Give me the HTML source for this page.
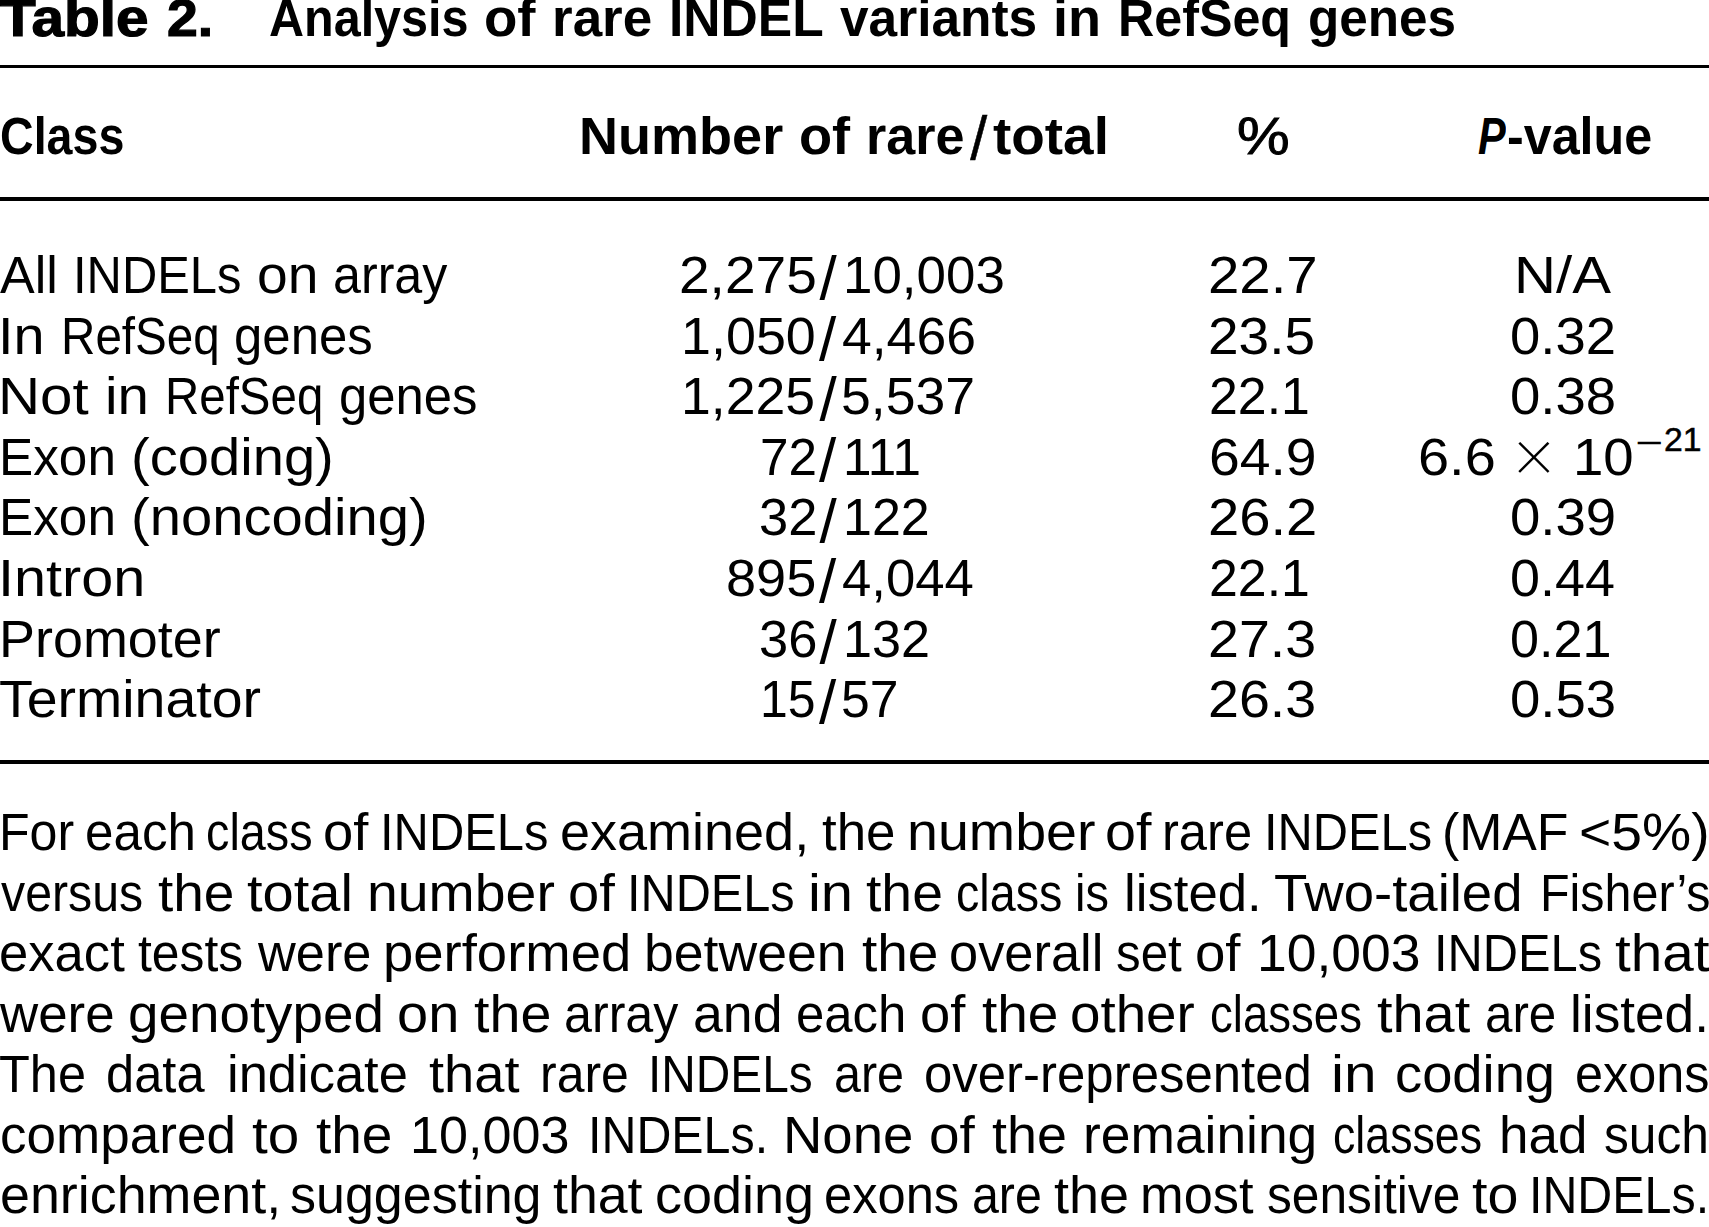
<!DOCTYPE html>
<html lang="en"><head><meta charset="utf-8"><title>Table 2</title>
<style>
html,body{margin:0;padding:0;background:#fff;}
body{width:1709px;height:1227px;position:relative;overflow:hidden;font-family:"Liberation Sans",sans-serif;color:#000;}
.t{position:absolute;white-space:nowrap;line-height:1;transform-origin:0 0;display:block;}
.hr{position:absolute;left:0;width:1709px;background:#000;}
main,h1,p,div{margin:0;padding:0;}
.r{font-size:52.2px;font-weight:400;}
.b{font-size:52.2px;font-weight:700;}
.sb{font-size:52.2px;font-weight:400;-webkit-text-stroke:0.9px #000;}
.xb{font-size:52.2px;font-weight:700;-webkit-text-stroke:1.2px #000;}
.sl{font-size:62px;font-weight:400;}
.hsl{font-size:61px;font-weight:400;-webkit-text-stroke:0.5px #000;}
.x{font-size:80px;font-weight:400;-webkit-text-stroke:3.2px #fff;}
.m{font-size:33px;font-weight:400;}
.s{font-size:33px;font-weight:400;-webkit-text-stroke:0.5px #000;}
</style></head>
<body>
<main class="tbl">
<h1 class="cap">
<span class="t xb" style="left:0.00px;top:-8.50px;transform:scaleX(1.1213);">Table</span>
<span class="t xb" style="left:167.24px;top:-8.50px;transform:scaleX(1.0605);">2.</span>
<span class="t b" style="left:269.06px;top:-8.20px;transform:scaleX(0.9294);">Analysis</span>
<span class="t b" style="left:484.09px;top:-8.20px;transform:scaleX(1.0465);">of</span>
<span class="t b" style="left:551.61px;top:-8.20px;transform:scaleX(1.0159);">rare</span>
<span class="t b" style="left:669.47px;top:-8.20px;transform:scaleX(0.9881);">INDEL</span>
<span class="t b" style="left:840.24px;top:-8.20px;transform:scaleX(0.9850);">variants</span>
<span class="t b" style="left:1053.18px;top:-8.20px;transform:scaleX(1.0355);">in</span>
<span class="t b" style="left:1118.18px;top:-8.20px;transform:scaleX(0.9624);">RefSeq</span>
<span class="t b" style="left:1307.58px;top:-8.20px;transform:scaleX(0.9818);">genes</span>
</h1>
<div class="hr" style="top:64.5px;height:3.8px"></div>
<div class="thead">
<span class="t b" style="left:0.02px;top:109.70px;transform:scaleX(0.8927);">Class</span>
<span class="t b" style="left:578.61px;top:109.70px;transform:scaleX(1.0356);">Number</span>
<span class="t b" style="left:799.12px;top:109.70px;transform:scaleX(1.0386);">of</span>
<span class="t b" style="left:866.36px;top:109.70px;transform:scaleX(0.9987);">rare</span><span class="t hsl" style="left:970.30px;top:107.95px;transform:scaleX(1.0000);">/</span><span class="t b" style="left:992.67px;top:109.70px;transform:scaleX(1.0521);">total</span>
<span class="t sb" style="left:1237.11px;top:109.70px;transform:scaleX(1.1347);">%</span>
<span class="t b" style="left:1477.81px;top:109.70px;transform:scaleX(0.7964);"><i>P</i></span><span class="t b" style="left:1506.86px;top:109.70px;transform:scaleX(0.9628);">-value</span>
</div>
<div class="hr" style="top:197.3px;height:3.8px"></div>
<div class="tbody">
<div class="tr">
<span class="t r" style="left:0.00px;top:249.10px;transform:scaleX(0.9957);">All</span>
<span class="t r" style="left:72.92px;top:249.10px;transform:scaleX(0.9370);">INDELs</span>
<span class="t r" style="left:257.33px;top:249.10px;transform:scaleX(1.0575);">on</span>
<span class="t r" style="left:332.86px;top:249.10px;transform:scaleX(0.9618);">array</span>
<span class="t r" style="left:678.71px;top:249.10px;transform:scaleX(1.0549);">2,275</span><span class="t sl" style="left:819.60px;top:247.30px;transform:scaleX(1.0000);">/</span><span class="t r" style="left:842.61px;top:249.10px;transform:scaleX(1.0140);">10,003</span>
<span class="t r" style="left:1207.59px;top:249.10px;transform:scaleX(1.0802);">22.7</span>
<span class="t r" style="left:1514.05px;top:249.10px;transform:scaleX(1.1142);">N/A</span>
</div>
<div class="tr">
<span class="t r" style="left:-1.75px;top:309.70px;transform:scaleX(1.0688);">In</span>
<span class="t r" style="left:60.95px;top:309.70px;transform:scaleX(0.9121);">RefSeq</span>
<span class="t r" style="left:234.07px;top:309.70px;transform:scaleX(0.9756);">genes</span>
<span class="t r" style="left:681.29px;top:309.70px;transform:scaleX(1.0323);">1,050</span><span class="t sl" style="left:819.10px;top:307.90px;transform:scaleX(1.0000);">/</span><span class="t r" style="left:841.86px;top:309.70px;transform:scaleX(1.0253);">4,466</span>
<span class="t r" style="left:1207.65px;top:309.70px;transform:scaleX(1.0535);">23.5</span>
<span class="t r" style="left:1509.68px;top:309.70px;transform:scaleX(1.0429);">0.32</span>
</div>
<div class="tr">
<span class="t r" style="left:-1.96px;top:370.20px;transform:scaleX(1.1167);">Not</span>
<span class="t r" style="left:104.73px;top:370.20px;transform:scaleX(1.0813);">in</span>
<span class="t r" style="left:165.26px;top:370.20px;transform:scaleX(0.9096);">RefSeq</span>
<span class="t r" style="left:339.22px;top:370.20px;transform:scaleX(0.9741);">genes</span>
<span class="t r" style="left:681.33px;top:370.20px;transform:scaleX(1.0259);">1,225</span><span class="t sl" style="left:819.60px;top:368.40px;transform:scaleX(1.0000);">/</span><span class="t r" style="left:840.72px;top:370.20px;transform:scaleX(1.0259);">5,537</span>
<span class="t r" style="left:1208.79px;top:370.20px;transform:scaleX(0.9931);">22.1</span>
<span class="t r" style="left:1509.68px;top:370.20px;transform:scaleX(1.0449);">0.38</span>
</div>
<div class="tr">
<span class="t r" style="left:-1.37px;top:430.80px;transform:scaleX(0.9829);">Exon</span>
<span class="t r" style="left:131.14px;top:430.80px;transform:scaleX(1.0756);">(coding)</span>
<span class="t r" style="left:759.88px;top:430.80px;transform:scaleX(0.9829);">72</span><span class="t sl" style="left:819.10px;top:429.00px;transform:scaleX(1.0000);">/</span><span class="t r" style="left:842.72px;top:430.80px;transform:scaleX(0.9821);">111</span>
<span class="t r" style="left:1209.06px;top:430.80px;transform:scaleX(1.0594);">64.9</span>
<span class="t r" style="left:1417.99px;top:430.80px;transform:scaleX(1.0714);">6.6</span>
<span class="t x" style="left:1510.50px;top:416.56px;transform:scaleX(1.0000);">×</span>
<span class="t r" style="left:1573.13px;top:430.80px;transform:scaleX(1.0459);">10</span><span class="t m" style="left:1635.02px;top:425.56px;transform:scaleX(1.4439);">−</span><span class="t s" style="left:1664.30px;top:423.36px;transform:scaleX(1.0230);">21</span>
</div>
<div class="tr">
<span class="t r" style="left:-1.37px;top:491.40px;transform:scaleX(0.9829);">Exon</span>
<span class="t r" style="left:131.41px;top:491.40px;transform:scaleX(1.0763);">(noncoding)</span>
<span class="t r" style="left:758.53px;top:491.40px;transform:scaleX(1.0053);">32</span><span class="t sl" style="left:819.60px;top:489.60px;transform:scaleX(1.0000);">/</span><span class="t r" style="left:842.67px;top:491.40px;transform:scaleX(0.9965);">122</span>
<span class="t r" style="left:1207.60px;top:491.40px;transform:scaleX(1.0760);">26.2</span>
<span class="t r" style="left:1509.68px;top:491.40px;transform:scaleX(1.0449);">0.39</span>
</div>
<div class="tr">
<span class="t r" style="left:-1.91px;top:552.00px;transform:scaleX(1.1040);">Intron</span>
<span class="t r" style="left:726.08px;top:552.00px;transform:scaleX(1.0369);">895</span><span class="t sl" style="left:819.10px;top:550.20px;transform:scaleX(1.0000);">/</span><span class="t r" style="left:841.88px;top:552.00px;transform:scaleX(1.0097);">4,044</span>
<span class="t r" style="left:1208.79px;top:552.00px;transform:scaleX(0.9931);">22.1</span>
<span class="t r" style="left:1509.70px;top:552.00px;transform:scaleX(1.0331);">0.44</span>
</div>
<div class="tr">
<span class="t r" style="left:-0.59px;top:612.50px;transform:scaleX(1.0333);">Promoter</span>
<span class="t r" style="left:758.53px;top:612.50px;transform:scaleX(1.0053);">36</span><span class="t sl" style="left:819.60px;top:610.70px;transform:scaleX(1.0000);">/</span><span class="t r" style="left:842.65px;top:612.50px;transform:scaleX(0.9996);">132</span>
<span class="t r" style="left:1207.63px;top:612.50px;transform:scaleX(1.0657);">27.3</span>
<span class="t r" style="left:1509.78px;top:612.50px;transform:scaleX(0.9994);">0.21</span>
</div>
<div class="tr">
<span class="t r" style="left:-1.18px;top:673.10px;transform:scaleX(1.0628);">Terminator</span>
<span class="t r" style="left:759.81px;top:673.10px;transform:scaleX(0.9574);">15</span><span class="t sl" style="left:819.10px;top:671.30px;transform:scaleX(1.0000);">/</span><span class="t r" style="left:840.80px;top:673.10px;transform:scaleX(0.9905);">57</span>
<span class="t r" style="left:1207.63px;top:673.10px;transform:scaleX(1.0657);">26.3</span>
<span class="t r" style="left:1509.68px;top:673.10px;transform:scaleX(1.0449);">0.53</span>
</div>
</div>
<div class="hr" style="top:760.1px;height:3.6px"></div>
<p class="fn">
<span class="t r" style="left:-0.80px;top:805.90px;transform:scaleX(0.9602);">For</span>
<span class="t r" style="left:84.52px;top:805.90px;transform:scaleX(0.9799);">each</span>
<span class="t r" style="left:206.01px;top:805.90px;transform:scaleX(0.8966);">class</span>
<span class="t r" style="left:322.96px;top:805.90px;transform:scaleX(1.0420);">of</span>
<span class="t r" style="left:380.44px;top:805.90px;transform:scaleX(0.9370);">INDELs</span>
<span class="t r" style="left:559.70px;top:805.90px;transform:scaleX(1.0348);">examined,</span>
<span class="t r" style="left:822.24px;top:805.90px;transform:scaleX(1.0133);">the</span>
<span class="t r" style="left:906.81px;top:805.90px;transform:scaleX(1.0651);">number</span>
<span class="t r" style="left:1105.29px;top:805.90px;transform:scaleX(1.0662);">of</span>
<span class="t r" style="left:1161.53px;top:805.90px;transform:scaleX(0.9707);">rare</span>
<span class="t r" style="left:1263.76px;top:805.90px;transform:scaleX(0.9347);">INDELs</span>
<span class="t r" style="left:1441.69px;top:805.90px;transform:scaleX(0.9917);">(MAF</span>
<span class="t r" style="left:1579.33px;top:805.90px;transform:scaleX(1.0597);">&lt;5%)</span>
<span class="t r" style="left:0.70px;top:866.50px;transform:scaleX(0.9250);">versus</span>
<span class="t r" style="left:157.51px;top:866.50px;transform:scaleX(1.0540);">the</span>
<span class="t r" style="left:247.08px;top:866.50px;transform:scaleX(1.0737);">total</span>
<span class="t r" style="left:367.46px;top:866.50px;transform:scaleX(1.0616);">number</span>
<span class="t r" style="left:567.87px;top:866.50px;transform:scaleX(1.0759);">of</span>
<span class="t r" style="left:626.64px;top:866.50px;transform:scaleX(0.9324);">INDELs</span>
<span class="t r" style="left:807.92px;top:866.50px;transform:scaleX(1.1104);">in</span>
<span class="t r" style="left:865.82px;top:866.50px;transform:scaleX(1.0599);">the</span>
<span class="t r" style="left:956.10px;top:866.50px;transform:scaleX(0.8949);">class</span>
<span class="t r" style="left:1074.70px;top:866.50px;transform:scaleX(0.9000);">is</span>
<span class="t r" style="left:1123.95px;top:866.50px;transform:scaleX(1.0103);">listed.</span>
<span class="t r" style="left:1274.47px;top:866.50px;transform:scaleX(1.0449);">Two-tailed</span>
<span class="t r" style="left:1539.78px;top:866.50px;transform:scaleX(0.9282);">Fisher’s</span>
<span class="t r" style="left:-0.98px;top:927.10px;transform:scaleX(1.0081);">exact</span>
<span class="t r" style="left:138.41px;top:927.10px;transform:scaleX(0.9539);">tests</span>
<span class="t r" style="left:257.62px;top:927.10px;transform:scaleX(1.0027);">were</span>
<span class="t r" style="left:382.79px;top:927.10px;transform:scaleX(1.0437);">performed</span>
<span class="t r" style="left:644.21px;top:927.10px;transform:scaleX(1.0267);">between</span>
<span class="t r" style="left:861.51px;top:927.10px;transform:scaleX(1.0540);">the</span>
<span class="t r" style="left:949.39px;top:927.10px;transform:scaleX(1.0043);">overall</span>
<span class="t r" style="left:1115.86px;top:927.10px;transform:scaleX(0.9446);">set</span>
<span class="t r" style="left:1194.67px;top:927.10px;transform:scaleX(1.0465);">of</span>
<span class="t r" style="left:1256.89px;top:927.10px;transform:scaleX(1.0244);">10,003</span>
<span class="t r" style="left:1434.24px;top:927.10px;transform:scaleX(0.9347);">INDELs</span>
<span class="t r" style="left:1615.11px;top:927.10px;transform:scaleX(1.0847);">that</span>
<span class="t r" style="left:0.00px;top:987.60px;transform:scaleX(1.0135);">were</span>
<span class="t r" style="left:128.35px;top:987.60px;transform:scaleX(1.0498);">genotyped</span>
<span class="t r" style="left:396.93px;top:987.60px;transform:scaleX(1.0727);">on</span>
<span class="t r" style="left:473.53px;top:987.60px;transform:scaleX(1.0657);">the</span>
<span class="t r" style="left:563.55px;top:987.60px;transform:scaleX(0.9617);">array</span>
<span class="t r" style="left:692.71px;top:987.60px;transform:scaleX(1.0284);">and</span>
<span class="t r" style="left:796.45px;top:987.60px;transform:scaleX(0.9744);">each</span>
<span class="t r" style="left:920.39px;top:987.60px;transform:scaleX(1.0419);">of</span>
<span class="t r" style="left:981.78px;top:987.60px;transform:scaleX(1.0540);">the</span>
<span class="t r" style="left:1070.02px;top:987.60px;transform:scaleX(1.0490);">other</span>
<span class="t r" style="left:1209.87px;top:987.60px;transform:scaleX(0.8730);">classes</span>
<span class="t r" style="left:1377.17px;top:987.60px;transform:scaleX(1.0708);">that</span>
<span class="t r" style="left:1485.20px;top:987.60px;transform:scaleX(0.9453);">are</span>
<span class="t r" style="left:1569.91px;top:987.60px;transform:scaleX(1.0195);">listed.</span>
<span class="t r" style="left:-1.07px;top:1048.20px;transform:scaleX(0.9670);">The</span>
<span class="t r" style="left:105.84px;top:1048.20px;transform:scaleX(0.9702);">data</span>
<span class="t r" style="left:227.33px;top:1048.20px;transform:scaleX(1.0055);">indicate</span>
<span class="t r" style="left:429.21px;top:1048.20px;transform:scaleX(1.0405);">that</span>
<span class="t r" style="left:539.81px;top:1048.20px;transform:scaleX(0.9570);">rare</span>
<span class="t r" style="left:648.42px;top:1048.20px;transform:scaleX(0.9162);">INDELs</span>
<span class="t r" style="left:833.64px;top:1048.20px;transform:scaleX(0.9284);">are</span>
<span class="t r" style="left:924.14px;top:1048.20px;transform:scaleX(0.9760);">over-represented</span>
<span class="t r" style="left:1330.62px;top:1048.20px;transform:scaleX(1.1218);">in</span>
<span class="t r" style="left:1395.32px;top:1048.20px;transform:scaleX(1.0408);">coding</span>
<span class="t r" style="left:1574.63px;top:1048.20px;transform:scaleX(0.9649);">exons</span>
<span class="t r" style="left:0.11px;top:1108.80px;transform:scaleX(1.0165);">compared</span>
<span class="t r" style="left:252.14px;top:1108.80px;transform:scaleX(1.0857);">to</span>
<span class="t r" style="left:315.56px;top:1108.80px;transform:scaleX(1.0540);">the</span>
<span class="t r" style="left:409.67px;top:1108.80px;transform:scaleX(0.9985);">10,003</span>
<span class="t r" style="left:588.36px;top:1108.80px;transform:scaleX(0.9270);">INDELs.</span>
<span class="t r" style="left:783.41px;top:1108.80px;transform:scaleX(1.0445);">None</span>
<span class="t r" style="left:928.91px;top:1108.80px;transform:scaleX(1.0516);">of</span>
<span class="t r" style="left:992.22px;top:1108.80px;transform:scaleX(1.0312);">the</span>
<span class="t r" style="left:1083.02px;top:1108.80px;transform:scaleX(1.0224);">remaining</span>
<span class="t r" style="left:1332.51px;top:1108.80px;transform:scaleX(0.8565);">classes</span>
<span class="t r" style="left:1499.30px;top:1108.80px;transform:scaleX(1.0152);">had</span>
<span class="t r" style="left:1603.66px;top:1108.80px;transform:scaleX(0.9518);">such</span>
<span class="t r" style="left:0.07px;top:1169.40px;transform:scaleX(1.0311);">enrichment,</span>
<span class="t r" style="left:290.03px;top:1169.40px;transform:scaleX(0.9965);">suggesting</span>
<span class="t r" style="left:552.86px;top:1169.40px;transform:scaleX(1.0286);">that</span>
<span class="t r" style="left:655.33px;top:1169.40px;transform:scaleX(1.0341);">coding</span>
<span class="t r" style="left:824.23px;top:1169.40px;transform:scaleX(0.9709);">exons</span>
<span class="t r" style="left:972.24px;top:1169.40px;transform:scaleX(0.9256);">are</span>
<span class="t r" style="left:1054.17px;top:1169.40px;transform:scaleX(1.0340);">the</span>
<span class="t r" style="left:1140.35px;top:1169.40px;transform:scaleX(1.0038);">most</span>
<span class="t r" style="left:1267.24px;top:1169.40px;transform:scaleX(0.9521);">sensitive</span>
<span class="t r" style="left:1471.50px;top:1169.40px;transform:scaleX(1.0659);">to</span>
<span class="t r" style="left:1529.37px;top:1169.40px;transform:scaleX(0.9269);">INDELs.</span>
</p>
</main>
</body></html>
